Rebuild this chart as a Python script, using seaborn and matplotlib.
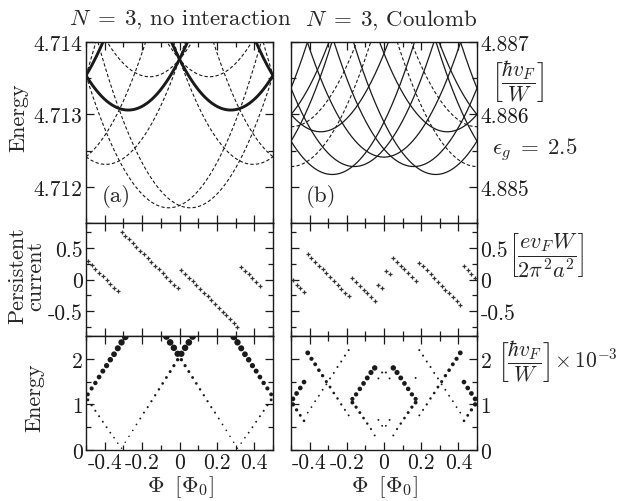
import numpy as np
import pandas as pd
import matplotlib
matplotlib.use("Agg")
import matplotlib.pyplot as plt
from matplotlib.ticker import MultipleLocator, FuncFormatter
import seaborn as sns

sns.set_theme(style="ticks")
plt.rcParams.update({
    'font.family': 'serif',
    'font.serif': ['cmr10'],
    'mathtext.fontset': 'cm',
    'axes.unicode_minus': False,
    'axes.formatter.use_mathtext': True,
    'font.size': 15.5,
    'xtick.labelsize': 15.5,
    'ytick.labelsize': 15.5,
    'xtick.direction': 'in',
    'ytick.direction': 'in',
    'xtick.top': True,
    'ytick.right': True,
    'axes.linewidth': 1.0,
    'axes.edgecolor': 'black',
})

# ---- top panels: parabola vertices (flux of minimum, minimum energy)
curv = 0.00936  # energy per Phi^2, same for every level
a_thick_c = [-0.274, 0.274]
a_thick_e = [4.71306, 4.71306]
a_dash_c = [-0.058, 0.058, -0.16, 0.16, -0.394, 0.394]
a_dash_e = [4.71171, 4.71171, 4.71352, 4.71352, 4.71231, 4.71231]
b_solid_c = [-0.278, 0.278, -0.16, 0.16, 0.0, -0.34, 0.34]
b_solid_e = [4.88517, 4.88517, 4.88528, 4.88528, 4.88541, 4.88576, 4.88576]
b_dash_c = [0.5, 0.5]
b_dash_e = [4.88528, 4.88583]

# ---- middle panels: persistent current
cur_a_phi = [-0.49, -0.47, -0.45, -0.43, -0.41, -0.39, -0.37, -0.35, -0.33,
             -0.31, -0.29, -0.27, -0.25, -0.23, -0.21, -0.19, -0.17, -0.15, -0.13, -0.11,
             -0.09, -0.07, -0.05, -0.03, -0.01,
             0.01, 0.03, 0.05, 0.07, 0.09, 0.11, 0.13, 0.15, 0.17, 0.19, 0.21, 0.23,
             0.25, 0.27, 0.29, 0.31,
             0.33, 0.35, 0.37, 0.39, 0.41, 0.43]
cur_a_val = [0.29, 0.23, 0.17, 0.11, 0.05, -0.01, -0.07, -0.13, -0.19,
             0.76, 0.70, 0.64, 0.58, 0.52, 0.46, 0.40, 0.34, 0.28, 0.22,
             0.16, 0.10, 0.04, -0.02, -0.08, -0.14,
             0.15, 0.09, 0.03, -0.03, -0.09, -0.15, -0.21, -0.27, -0.33, -0.39, -0.45, -0.51,
             -0.57, -0.63, -0.69, -0.75,
             0.20, 0.14, 0.08, 0.02, -0.04, -0.10]
cur_b_phi = [-0.49, -0.47, -0.45, -0.43,
             -0.41, -0.39, -0.37, -0.35, -0.33, -0.31, -0.29, -0.27, -0.25, -0.23, -0.21, -0.19,
             -0.17, -0.15, -0.13, -0.11, -0.09, -0.07, -0.05,
             -0.03, -0.01, 0.01, 0.03,
             0.05, 0.07, 0.09, 0.11, 0.13, 0.15, 0.17,
             0.19, 0.21, 0.23, 0.25, 0.27, 0.29, 0.31, 0.33, 0.35, 0.37, 0.39, 0.41,
             0.43, 0.45, 0.47, 0.49]
cur_b_val = [-0.01, -0.08, -0.14, -0.20,
             0.40, 0.34, 0.28, 0.22, 0.16, 0.10, 0.04, -0.02, -0.08, -0.15, -0.21, -0.27,
             0.02, -0.04, -0.10, -0.16, -0.22, -0.28, -0.35,
             -0.08, -0.14, 0.14, 0.08,
             0.35, 0.28, 0.22, 0.16, 0.10, 0.04, -0.02,
             0.27, 0.21, 0.15, 0.08, 0.02, -0.04, -0.10, -0.16, -0.22, -0.28, -0.34, -0.40,
             0.21, 0.15, 0.09, 0.03]

# ---- bottom panels: excitation energies (x1e-3) and weight (dot size), Phi<0 half (mirror symmetric)
gap_a_phi = [-0.49, -0.47, -0.45, -0.43, -0.41, -0.39, -0.37, -0.35, -0.33, -0.31, -0.29,
             -0.49, -0.47, -0.45, -0.43, -0.41, -0.39, -0.37, -0.35, -0.33, -0.31,
             -0.29, -0.27, -0.25, -0.23, -0.21, -0.19, -0.17, -0.15, -0.13, -0.11,
             -0.09, -0.07, -0.05, -0.03, -0.01,
             -0.07, -0.05, -0.03, -0.01]
gap_a_e = [1.22, 1.35, 1.47, 1.60, 1.73, 1.85, 1.98, 2.10, 2.23, 2.36, 2.48,
           1.10, 0.98, 0.86, 0.74, 0.62, 0.50, 0.38, 0.27, 0.15, 0.04,
           0.17, 0.30, 0.43, 0.56, 0.69, 0.82, 0.94, 1.07, 1.20, 1.33,
           1.46, 1.59, 1.72, 1.85, 1.98,
           2.49, 2.36, 2.24, 2.11]
gap_a_w = [0.30, 0.35, 0.40, 0.46, 0.52, 0.58, 0.64, 0.70, 0.78, 0.86, 0.95,
           0.15, 0.07, 0.06, 0.055, 0.05, 0.045, 0.04, 0.03, 0.02, 0.015,
           0.015, 0.02, 0.025, 0.035, 0.045, 0.055, 0.065, 0.075, 0.085, 0.10,
           0.12, 0.14, 0.16, 0.19, 0.22,
           1.0, 0.95, 0.90, 0.85]
gap_b_phi = [-0.49, -0.47, -0.45, -0.43,
             -0.49, -0.47, -0.45, -0.43,
             -0.41, -0.39, -0.37, -0.35, -0.33, -0.31, -0.29, -0.27, -0.25, -0.23, -0.21, -0.19,
             -0.41, -0.39, -0.37, -0.35, -0.33, -0.31, -0.29, -0.27, -0.25, -0.23, -0.21, -0.19,
             -0.17, -0.15, -0.13, -0.11, -0.09, -0.07, -0.05,
             -0.17, -0.15, -0.13, -0.11, -0.09, -0.07, -0.05,
             -0.03, -0.01, -0.03, -0.01]
gap_b_e = [1.12, 1.24, 1.36, 1.49,
           1.00, 0.88, 0.76, 0.64,
           2.13, 2.00, 1.88, 1.75, 1.63, 1.50, 1.38, 1.25, 1.13, 1.00, 0.88, 0.76,
           0.82, 0.94, 1.07, 1.19, 1.32, 1.44, 1.57, 1.69, 1.82, 1.94, 2.07, 2.19,
           1.12, 1.22, 1.34, 1.46, 1.58, 1.70, 1.80,
           1.04, 0.94, 0.82, 0.70, 0.58, 0.46, 0.32,
           1.57, 1.70, 0.66, 0.53]
gap_b_w = [0.48, 0.45, 0.45, 0.45,
           0.40, 0.20, 0.15, 0.12,
           0.48, 0.35, 0.30, 0.26, 0.22, 0.18, 0.15, 0.12, 0.10, 0.08, 0.06, 0.05,
           0.035, 0.035, 0.04, 0.04, 0.045, 0.045, 0.05, 0.05, 0.055, 0.055, 0.06, 0.06,
           0.35, 0.38, 0.42, 0.46, 0.50, 0.56, 0.63,
           0.30, 0.20, 0.16, 0.13, 0.10, 0.07, 0.05,
           0.05, 0.06, 0.045, 0.04]
gap_b_extra = (0.17, 1.58, 0.05)

phi = np.linspace(-0.5, 0.5, 401)


def parabola_frame(centres, minima):
    parts = []
    for i, (c, m) in enumerate(zip(centres, minima)):
        for shift in (-1, 0, 1):
            parts.append(pd.DataFrame({'phi': phi,
                                       'E': m + curv * (phi - c - shift) ** 2,
                                       'curve': f'{i}_{shift}'}))
    return pd.concat(parts, ignore_index=True)


def mirrored(ph, e, w):
    df = pd.DataFrame({'phi': ph, 'E': e, 'w': w})
    df2 = df.copy()
    df2['phi'] = -df2['phi']
    return pd.concat([df, df2], ignore_index=True)


fmt = FuncFormatter(lambda v, p: f"{round(v, 4) + 0.0:g}")

fig = plt.figure(figsize=(6.31, 5.02), dpi=100)
W, H = 631, 502


def add_ax(x0, x1, y0, y1):
    return fig.add_axes([x0 / W, 1 - y1 / H, (x1 - x0) / W, (y1 - y0) / H])


cols = [(86, 273), (291, 477)]
rows = [(43, 224), (224, 337), (337, 451)]
axes = [[add_ax(c[0], c[1], r[0], r[1]) for c in cols] for r in rows]

dash = (0, (3, 2))

# top-left
ax = axes[0][0]
sns.lineplot(data=parabola_frame(a_dash_c, a_dash_e), x='phi', y='E', units='curve',
             estimator=None, color='k', lw=0.8, linestyle=dash, ax=ax)
sns.lineplot(data=parabola_frame(a_thick_c, a_thick_e), x='phi', y='E', units='curve',
             estimator=None, color='k', lw=2.1, ax=ax)
ax.set_ylim(4.7115, 4.714)
ax.yaxis.set_major_locator(MultipleLocator(0.001))
ax.yaxis.set_minor_locator(MultipleLocator(0.0005))

# top-right
ax = axes[0][1]
sns.lineplot(data=parabola_frame(b_dash_c, b_dash_e), x='phi', y='E', units='curve',
             estimator=None, color='k', lw=0.8, linestyle=dash, ax=ax)
sns.lineplot(data=parabola_frame(b_solid_c, b_solid_e), x='phi', y='E', units='curve',
             estimator=None, color='k', lw=0.9, ax=ax)
ax.set_ylim(4.8845, 4.887)
ax.yaxis.set_major_locator(MultipleLocator(0.001))
ax.yaxis.set_minor_locator(MultipleLocator(0.0005))

# middle
for ax, ph, val in [(axes[1][0], cur_a_phi, cur_a_val), (axes[1][1], cur_b_phi, cur_b_val)]:
    sns.scatterplot(x=ph, y=val, marker='+', s=12, linewidth=0.9, color='0.2', ax=ax)
    ax.set_ylim(-0.9, 0.9)
    ax.yaxis.set_major_locator(MultipleLocator(0.5))
    ax.yaxis.set_minor_locator(MultipleLocator(0.25))

# bottom
gap_a = mirrored(gap_a_phi, gap_a_e, gap_a_w)
gap_b = mirrored(gap_b_phi, gap_b_e, gap_b_w)
gap_b.loc[len(gap_b)] = list(gap_b_extra)
for ax, df in [(axes[2][0], gap_a), (axes[2][1], gap_b)]:
    sns.scatterplot(data=df, x='phi', y='E', size='w', sizes=(0.8, 24), size_norm=(0, 1),
                    color='k', linewidth=0, legend=False, ax=ax)
    ax.set_ylim(0, 2.5)
    ax.yaxis.set_major_locator(MultipleLocator(1))
    ax.yaxis.set_minor_locator(MultipleLocator(0.5))

for r, row in enumerate(axes):
    for c, ax in enumerate(row):
        ax.set_xlim(-0.5, 0.5)
        ax.xaxis.set_major_locator(MultipleLocator(0.2))
        ax.xaxis.set_minor_locator(MultipleLocator(0.1))
        ax.xaxis.set_major_formatter(fmt)
        ax.yaxis.set_major_formatter(fmt)
        ax.set_xlabel('')
        ax.set_ylabel('')
        ax.tick_params(which='both', direction='in', top=True, right=True, left=True,
                       bottom=True, width=0.9, colors='k')
        ax.tick_params(which='major', length=6, pad=3)
        ax.tick_params(which='minor', length=3.5)
        ax.tick_params(axis='x', labelbottom=(r == 2), pad=2)
        ax.tick_params(axis='y', labelleft=(c == 0), labelright=(c == 1), pad=2.5)
        for s in ax.spines.values():
            s.set_linewidth(1.0)
            s.set_color('k')


def ftext(x, y, s, **kw):
    fig.text(x / W, 1 - y / H, s, **kw)


ftext(180, 20, r'$N \;=\; 3$, no interaction', ha='center', va='center', fontsize=16.5)
ftext(391, 20, r'$N \;=\; 3$, Coulomb', ha='center', va='center', fontsize=16.5)
ftext(19, 118, 'Energy', rotation=90, ha='center', va='center', fontsize=16)
ftext(27, 276, 'Persistent\ncurrent', rotation=90, ha='center', va='center',
      fontsize=16, linespacing=0.9)
ftext(35, 398, 'Energy', rotation=90, ha='center', va='center', fontsize=16)
ftext(180, 487, r'$\Phi\;\;[\Phi_0]$', ha='center', va='center', fontsize=16.5)
ftext(384, 487, r'$\Phi\;\;[\Phi_0]$', ha='center', va='center', fontsize=16.5)
ftext(491, 82, r'$\left[\dfrac{\hbar v_F}{W}\right]$', ha='left', va='center', fontsize=15.5)
ftext(492, 150, r'$\epsilon_g \;=\; 2.5$', ha='left', va='center', fontsize=16.5)
ftext(509, 256, r'$\left[\dfrac{e v_F W}{2\pi^2 a^2}\right]$', ha='left', va='center',
      fontsize=16)
ftext(497, 362, r'$\left[\dfrac{\hbar v_F}{W}\right]\!\times 10^{-3}$', ha='left', va='center',
      fontsize=15.5)
axes[0][0].text(0.16, 0.15, '(a)', transform=axes[0][0].transAxes, ha='center', va='center',
                fontsize=16.5)
axes[0][1].text(0.16, 0.15, '(b)', transform=axes[0][1].transAxes, ha='center', va='center',
                fontsize=16.5)

fig.savefig('out.png', dpi=100)
